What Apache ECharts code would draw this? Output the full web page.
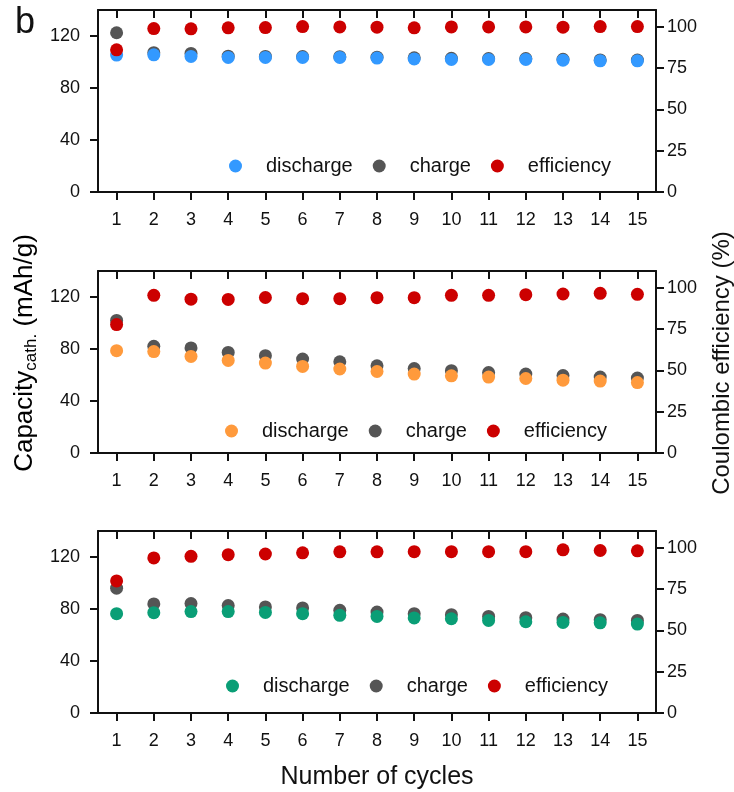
<!DOCTYPE html>
<html>
<head>
<meta charset="utf-8">
<title>Capacity vs cycles</title>
<script src="https://cdn.jsdelivr.net/npm/echarts@6/dist/echarts.min.js"></script>
<style>
  html, body { margin: 0; padding: 0; background: #fff; }
  #main { width: 734px; height: 792px; }
</style>
</head>
<body>
<div id="main"></div>
<script>
const cycles = ['1', '2', '3', '4', '5', '6', '7', '8', '9', '10', '11', '12', '13', '14', '15'];
const capacityTicks = [0, 40, 80, 120];
const efficiencyTicks = [0, 25, 50, 75, 100];

// panel 1 (blue)
const discharge1 = [105.3, 105.5, 104.3, 103.5, 103.5, 103.5, 103.5, 103.0, 102.4, 102.0, 102.0, 102.0, 101.4, 100.9, 100.9];
const charge1 = [122.5, 107.2, 106.6, 104.5, 104.3, 104.2, 104.1, 103.7, 103.2, 102.8, 102.7, 102.6, 102.1, 101.6, 101.5];
const efficiency1 = [85.9, 98.8, 98.6, 99.2, 99.4, 100, 99.8, 99.6, 99.2, 99.8, 99.8, 99.8, 99.6, 100, 100];

// panel 2 (orange)
const discharge2 = [78.7, 78.0, 74.3, 71.2, 69.2, 66.6, 64.6, 62.7, 60.7, 59.4, 58.4, 57.3, 56.0, 55.3, 54.2];
const charge2 = [102.0, 82.1, 80.8, 77.4, 74.9, 72.3, 70.2, 67.1, 65.0, 63.3, 61.9, 60.7, 59.6, 58.4, 57.6];
const efficiency2 = [77.6, 95.3, 93.0, 92.8, 94.0, 93.3, 93.3, 93.9, 93.9, 95.3, 95.3, 95.7, 96.1, 96.5, 95.9];

// panel 3 (green)
const discharge3 = [76.4, 77.2, 78.0, 78.0, 77.4, 76.4, 75.1, 74.3, 73.1, 72.5, 71.2, 70.2, 69.7, 69.4, 68.4];
const charge3 = [96.0, 83.9, 84.2, 82.6, 81.6, 80.8, 79.0, 77.7, 76.4, 75.6, 74.3, 73.3, 72.3, 71.8, 71.2];
const efficiency3 = [79.8, 93.7, 94.7, 95.7, 96.1, 96.8, 97.4, 97.4, 97.5, 97.5, 97.5, 97.5, 98.6, 98.2, 98.0];

const chart = echarts.init(document.getElementById('main'));
const font = "'Liberation Sans', Arial, sans-serif";
const ink = '#111';
const chargeColor = '#555555';
const effColor = '#cc0000';

const panels = [
    { top: 10, discharge: discharge1, charge: charge1, eff: efficiency1, color: '#3399ff', legendLeft: 229, legendTop: 156 },
    { top: 271, discharge: discharge2, charge: charge2, eff: efficiency2, color: '#ff9a3c', legendLeft: 225, legendTop: 421 },
    { top: 531, discharge: discharge3, charge: charge3, eff: efficiency3, color: '#0a9e76', legendLeft: 226, legendTop: 676 }
];

const axisLine = { show: true, onZero: false, lineStyle: { color: ink, width: 2 } };
const tickStyle = { color: ink, width: 2 };

function scatter(name, data, color, xi, yi) {
    return {
        name: name,
        type: 'scatter',
        xAxisIndex: xi,
        yAxisIndex: yi,
        symbol: 'circle',
        symbolSize: 13,
        itemStyle: { color: color, opacity: 1 },
        data: data
    };
}

const grid = [], xAxis = [], yAxis = [], series = [], legend = [];

panels.forEach((p, i) => {
    grid.push({ left: 98, width: 558, top: p.top, height: 182 });
    // bottom axis
    xAxis.push({
        type: 'category', gridIndex: i, data: cycles, boundaryGap: true, position: 'bottom',
        axisLine: axisLine,
        axisTick: { show: true, alignWithLabel: true, length: 8, lineStyle: tickStyle },
        axisLabel: { color: ink, fontSize: 18, fontFamily: font, margin: 19 }
    });
    // left capacity axis
    yAxis.push({
        type: 'value', gridIndex: i, min: 0, max: 140, interval: 40, position: 'left',
        splitLine: { show: false },
        axisLine: axisLine,
        axisTick: { show: true, length: 8, customValues: capacityTicks, lineStyle: tickStyle },
        axisLabel: { color: ink, fontSize: 18, fontFamily: font, margin: 18, customValues: capacityTicks }
    });
});

panels.forEach((p, i) => {
    // top frame axis
    xAxis.push({
        type: 'category', gridIndex: i, data: cycles, boundaryGap: true, position: 'top',
        axisLine: axisLine,
        axisTick: { show: true, alignWithLabel: true, inside: true, length: 8, lineStyle: tickStyle },
        axisLabel: { show: false }
    });
    // right efficiency axis
    yAxis.push({
        type: 'value', gridIndex: i, min: 0, max: 110, position: 'right',
        splitLine: { show: false },
        axisLine: axisLine,
        axisTick: { show: true, length: 8, customValues: efficiencyTicks, lineStyle: tickStyle },
        axisLabel: { color: ink, fontSize: 18, fontFamily: font, margin: 11, customValues: efficiencyTicks }
    });
});

panels.forEach((p, i) => {
    series.push(scatter('charge', p.charge, chargeColor, i, i));
    series.push(scatter('discharge', p.discharge, p.color, i, i));
    series.push(scatter('efficiency', p.eff, effColor, i, i + 3));
    legend.push({
        left: p.legendLeft, top: p.legendTop, padding: 0,
        itemWidth: 13, itemHeight: 13, itemGap: 20,
        selectedMode: false,
        textStyle: { color: ink, fontSize: 20, fontFamily: font, padding: [0, 0, 0, 19] },
        data: [
            { name: 'discharge', icon: 'circle', itemStyle: { color: p.color } },
            { name: 'charge', icon: 'circle', itemStyle: { color: chargeColor } },
            { name: 'efficiency', icon: 'circle', itemStyle: { color: effColor } }
        ]
    });
});

chart.setOption({
    animation: false,
    backgroundColor: '#fff',
    grid: grid,
    xAxis: xAxis,
    yAxis: yAxis,
    legend: legend,
    series: series,
    graphic: [
        {
            type: 'text', left: 15, top: 5,
            style: { text: 'b', font: '36px ' + font, fill: ink }
        },
        {
            type: 'text', x: 25, y: 353, rotation: Math.PI / 2,
            style: {
                text: '{m|Capacity}{s|cath.}{m| (mAh/g)}',
                align: 'center', verticalAlign: 'middle',
                rich: {
                    m: { fontSize: 26, fontFamily: font, color: ink },
                    s: { fontSize: 17, fontFamily: font, color: ink, padding: [12, 0, 0, 0] }
                }
            }
        },
        {
            type: 'text', x: 722, y: 363, rotation: Math.PI / 2,
            style: { text: 'Coulombic efficiency (%)', font: '24px ' + font, fill: ink, align: 'center', verticalAlign: 'middle' }
        },
        {
            type: 'text', x: 377, y: 777,
            style: { text: 'Number of cycles', font: '25px ' + font, fill: ink, align: 'center', verticalAlign: 'middle' }
        }
    ]
});

window.addEventListener('resize', () => {
    chart.resize();
});
</script>
</body>
</html>
